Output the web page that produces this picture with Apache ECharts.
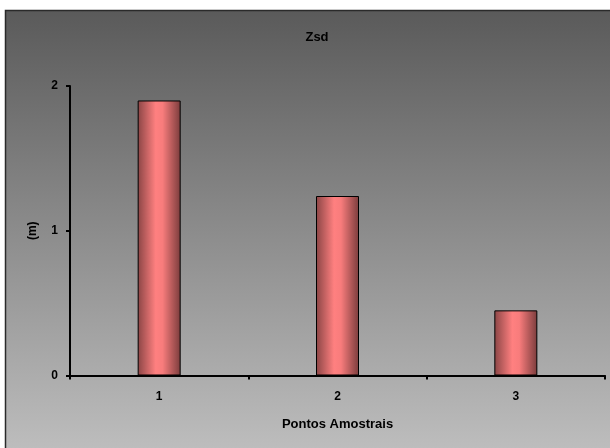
<!DOCTYPE html>
<html>
<head>
<meta charset="utf-8">
<script src="https://cdn.jsdelivr.net/npm/echarts@6/dist/echarts.min.js"></script>
<style>
  html, body { margin: 0; padding: 0; background: #ffffff; }
  #chart { width: 610px; height: 448px; }
</style>
</head>
<body>
<div id="chart"></div>
<script>
// Water transparency (Secchi depth) at each sampling point
const categories = ['1', '2', '3'];
const zsdValues = [1.90, 1.24, 0.45];
const yTicks = [0, 1, 2];

const chart = echarts.init(document.getElementById('chart'), null, { renderer: 'canvas' });

const font = '"Liberation Sans", Arial, sans-serif';

const barFill = new echarts.graphic.LinearGradient(0, 0, 1, 0, [
  { offset: 0, color: '#8a4545' },
  { offset: 0.42, color: '#ff8080' },
  { offset: 0.58, color: '#f87c7c' },
  { offset: 1, color: '#7a3c3c' }
]);

chart.setOption({
  animation: false,
  graphic: [{
    type: 'rect',
    z: -10,
    silent: true,
    shape: { x: 5.5, y: 10.5, width: 620, height: 460 },
    style: {
      fill: new echarts.graphic.LinearGradient(0, 0, 0, 1, [
        { offset: 0, color: '#5a5a5a' },
        { offset: 1, color: '#c2c2c2' }
      ]),
      stroke: '#2a2a2a',
      lineWidth: 1.5
    }
  }],
  title: {
    text: 'Zsd',
    left: 312,
    top: 26,
    textAlign: 'center',
    textStyle: { fontFamily: font, fontSize: 13, fontWeight: 'bold', color: '#000' }
  },
  grid: { left: 70, right: 5, top: 86, bottom: 72.5, containLabel: false },
  xAxis: {
    type: 'category',
    data: categories,
    name: 'Pontos Amostrais',
    nameLocation: 'middle',
    nameGap: 42,
    nameTextStyle: { fontFamily: font, fontSize: 13, fontWeight: 'bold', color: '#000' },
    axisLine: { lineStyle: { color: '#000', width: 2 } },
    axisTick: { show: true, inside: false, length: 4, alignWithLabel: false, lineStyle: { color: '#000', width: 2 } },
    axisLabel: { fontFamily: font, fontSize: 12, fontWeight: 'bold', color: '#000', margin: 15 },
    splitLine: { show: false }
  },
  yAxis: {
    type: 'value',
    min: yTicks[0],
    max: yTicks[yTicks.length - 1],
    interval: 1,
    name: '(m)',
    nameLocation: 'middle',
    nameRotate: 90,
    nameGap: 31,
    nameTextStyle: { fontFamily: font, fontSize: 12, fontWeight: 'bold', color: '#000' },
    axisLine: { show: true, lineStyle: { color: '#000', width: 2 } },
    axisTick: { show: true, inside: false, length: 4, lineStyle: { color: '#000', width: 2 } },
    axisLabel: { fontFamily: font, fontSize: 12, fontWeight: 'bold', color: '#000', margin: 12 },
    splitLine: { show: false }
  },
  series: [{
    type: 'bar',
    data: zsdValues,
    barWidth: 43,
    itemStyle: { color: barFill, borderColor: '#000', borderWidth: 1 }
  }]
});
</script>
</body>
</html>
